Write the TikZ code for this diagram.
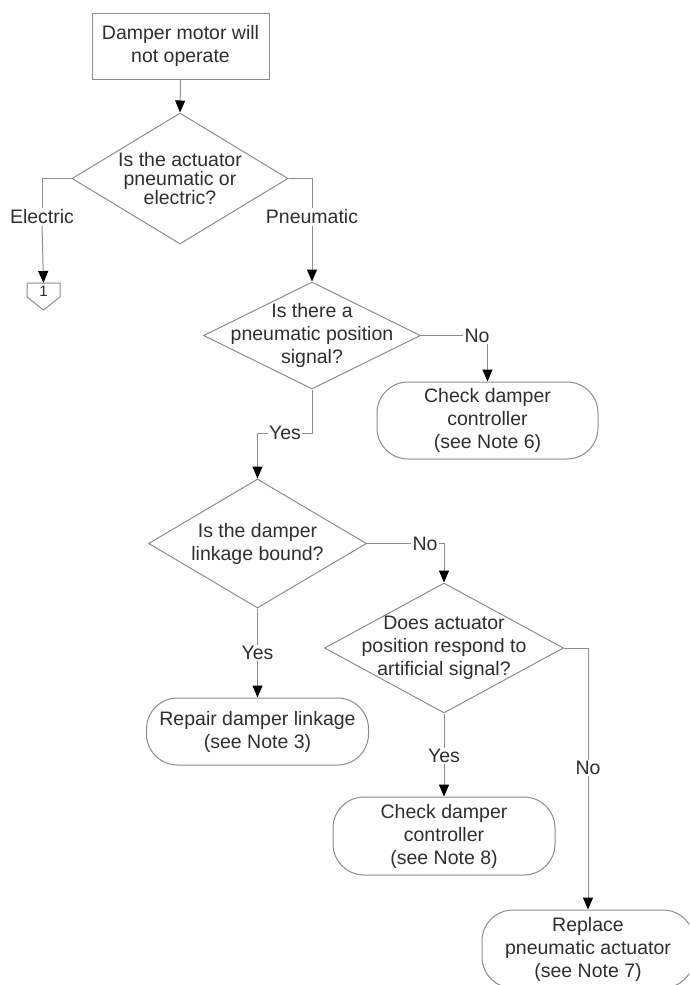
\documentclass[tikz,border=0pt]{standalone}
\usepackage{fontspec}
\setmainfont{Liberation Sans}
\usetikzlibrary{arrows.meta,shapes.geometric}
\definecolor{lineGray}{HTML}{8C8C8C}
\definecolor{txtGray}{HTML}{2E2E2E}
\begin{document}
\begin{tikzpicture}[x=1pt,y=-1pt,
  base/.style={font=\fontsize{19.5}{23}\selectfont, text=txtGray, align=center},
  startbox/.style={base, draw=lineGray, line width=1pt, minimum width=177pt, minimum height=66pt, inner sep=0pt},
  rbox/.style={base, draw=lineGray, line width=1pt, rounded corners=31pt, minimum width=222pt, inner sep=0pt},
  dia/.style={diamond, draw=lineGray, line width=1pt, inner sep=0pt},
  dtext/.style={base},
  lab/.style={base, fill=white, inner sep=1.5pt},
  conn/.style={draw=lineGray, line width=1pt},
  arr/.style={conn, -{Triangle[width=10pt,length=12pt,color=black]}}
]
\clip (0,0) rectangle (689,985);
\useasboundingbox (0,0) rectangle (689,985);

% start
\node[startbox] (start) at (180.5,46) {Damper motor will\\not operate};

% decision 1
\node[dia, minimum width=216pt, minimum height=131pt] (d1) at (180,178.5) {};
\node[dtext, font=\fontsize{19.5}{19}\selectfont] (d1t) at (d1) {Is the actuator\\pneumatic or\\electric?};

% off-page connector 1
\coordinate (c1) at (43.5,283);
\draw[conn] (27,283) -- (60,283) -- (60,297) -- (43.5,310) -- (27,297) -- cycle;
\node[text=txtGray, font=\fontsize{15}{17}\selectfont, inner sep=0pt] (c1t) at (43.5,291) {1};

% decision 2
\node[dia, minimum width=217pt, minimum height=107pt] (d2) at (312,335.5) {};
\node[dtext] (d2t) at (d2) {Is there a\\pneumatic position\\signal?};

% box note 6
\node[rbox, minimum width=221pt, minimum height=77pt] (b6) at (487.5,420.5) {Check damper\\controller\\(see Note 6)};

% decision 3
\node[dia, minimum width=218pt, minimum height=129pt] (d3) at (257.5,543.5) {};
\node[dtext] (d3t) at (d3) {Is the damper\\linkage bound?};

% box note 3
\node[rbox, minimum height=67pt] (b3) at (257.5,731.5) {Repair damper linkage\\(see Note 3)};

% decision 4
\node[dia, minimum width=239pt, minimum height=130pt] (d4) at (444,648) {};
\node[dtext] (d4t) at (d4) {Does actuator\\position respond to\\artificial signal?};

% box note 8
\node[rbox, minimum height=78pt] (b8) at (444,836) {Check damper\\controller\\(see Note 8)};

% box note 7
\node[rbox, minimum width=212pt, minimum height=78pt] (b7) at (588,949) {Replace\\pneumatic actuator\\(see Note 7)};

% connectors
\draw[arr] (start.south) -- (d1.north);

\node[lab] (elec) at (42,217) {Electric};
\draw[conn] (d1.west) -| (elec.north);
\draw[arr] (elec.south) -- (c1);

\node[lab] (pneu) at (312,217) {Pneumatic};
\draw[conn] (d1.east) -| (pneu.north);
\draw[arr] (pneu.south) -- (d2.north);

\draw[arr] (d2.east) -| (b6.north);
\node[lab] (no1) at (477,336) {No};

\draw[arr] (d2.south) |- (285,433) -| (d3.north);
\node[lab] (yes1) at (285,433) {Yes};

\draw[arr] (d3.east) -| (d4.north);
\node[lab] (no2) at (425,544) {No};

\draw[arr] (d3.south) -- (b3.north);
\node[lab] (yes2) at (257.5,653) {Yes};

\draw[arr] (d4.south) -- (b8.north);
\node[lab] (yes3) at (444,756) {Yes};

\draw[arr] (d4.east) -| (b7.north);
\node[lab] (no3) at (588,768) {No};
\end{tikzpicture}
\end{document}
